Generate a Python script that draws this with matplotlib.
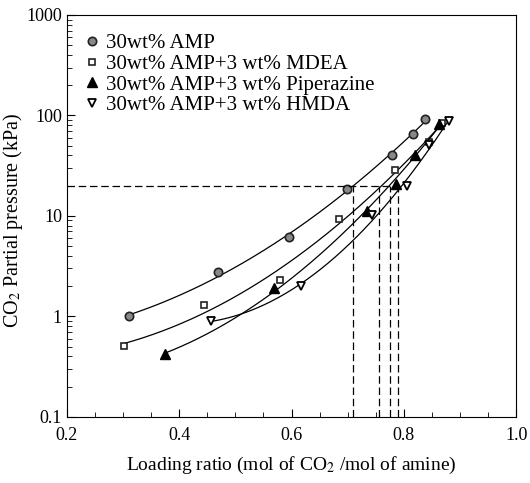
import numpy as np
import matplotlib
matplotlib.use('Agg')
import matplotlib.pyplot as plt

plt.rcParams['font.family'] = ['Liberation Serif', 'DejaVu Serif']
plt.rcParams['mathtext.fontset'] = 'stix'

# data
amp_x = [0.31, 0.47, 0.596, 0.699, 0.779, 0.816, 0.838]
amp_y = [1.0, 2.75, 6.1, 18.5, 40, 66, 92]
mdea_x = [0.302, 0.444, 0.579, 0.685, 0.784, 0.844, 0.867]
mdea_y = [0.51, 1.3, 2.3, 9.4, 28.4, 54, 85]
pz_x = [0.375, 0.568, 0.734, 0.786, 0.82, 0.862]
pz_y = [0.42, 1.9, 11.2, 21, 40, 82]
hmda_x = [0.456, 0.617, 0.744, 0.805, 0.845, 0.881]
hmda_y = [0.9, 2.0, 10.3, 19.7, 51, 89]

labels = ['30wt% AMP', '30wt% AMP+3 wt% MDEA',
          '30wt% AMP+3 wt% Piperazine', '30wt% AMP+3 wt% HMDA']

# loading at 20 kPa for each solution (dashed guides)
p_ref = 20
load_ref = [0.709, 0.755, 0.775, 0.79]

fig = plt.figure(figsize=(5.30, 4.83), dpi=100)
ax = fig.add_axes([0.126, 0.137, 0.848, 0.832])

series = [(amp_x, amp_y), (mdea_x, mdea_y), (pz_x, pz_y), (hmda_x, hmda_y)]
styles = [dict(marker='o', ms=6, mfc='#888888', mec='#222222', mew=1.2),
          dict(marker='s', ms=5, mfc='white', mec='#222222', mew=1.2),
          dict(marker='^', ms=7, mfc='black', mec='black', mew=1.0),
          dict(marker='v', ms=6, mfc='white', mec='black', mew=1.3)]

for (xs, ys), st, lab in zip(series, styles, labels):
    xs = np.array(xs)
    ys = np.array(ys)
    c = np.polyfit(xs, np.log10(ys), 2)
    xx = np.linspace(xs.min(), xs.max(), 200)
    ax.plot(xx, 10 ** np.polyval(c, xx), color='black', lw=0.9)
    ax.plot(xs, ys, ls='none', label=lab, **st)

ax.plot([0.2, max(load_ref)], [p_ref, p_ref], color='black', lw=0.9, ls=(0, (6, 3)))
for lr in load_ref:
    ax.plot([lr, lr], [0.1, p_ref], color='black', lw=0.9, ls=(0, (6, 3)))

ax.set_yscale('log')
ax.set_xlim(0.2, 1.0)
ax.set_ylim(0.1, 1000)
ax.set_xticks([0.2, 0.4, 0.6, 0.8, 1.0])
ax.set_xticklabels(['0.2', '0.4', '0.6', '0.8', '1.0'])
ax.set_xticks(np.arange(0.25, 1.0, 0.05), minor=True)
ax.set_yticks([0.1, 1, 10, 100, 1000])
ax.set_yticklabels(['0.1', '1', '10', '100', '1000'])
ax.tick_params(which='both', direction='in', labelsize=13)
ax.tick_params(which='major', length=6)
ax.tick_params(which='minor', length=3.5)
ax.tick_params(axis='x', pad=7)

ax.set_xlabel('Loading ratio (mol of CO$_2$ /mol of amine)', fontsize=14, labelpad=8)
ax.set_ylabel('CO$_2$ Partial pressure (kPa)', fontsize=14.5)
ax.yaxis.set_label_coords(-0.092, 0.49)

ax.legend(loc='upper left', frameon=False, fontsize=15, handlelength=0.6,
          handletextpad=0.4, labelspacing=0.05, borderaxespad=0.5)

fig.savefig('out.png', dpi=100)
